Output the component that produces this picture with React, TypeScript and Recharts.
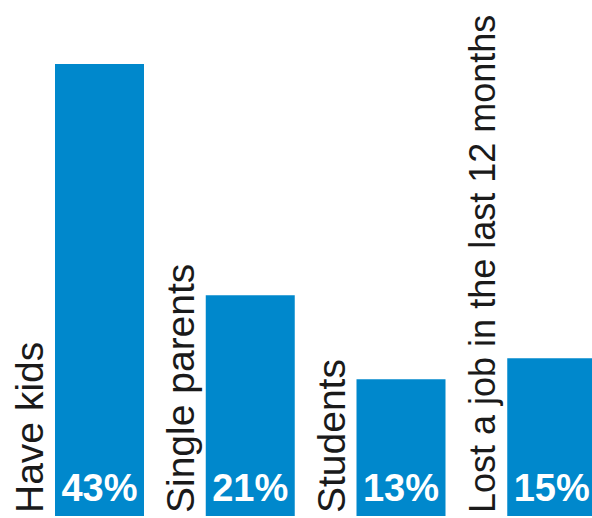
import React from "react"
import { BarChart, Bar, XAxis, YAxis, LabelList } from "recharts"

const categories = ["Have kids", "Single parents", "Students", "Lost a job in the last 12 months"]
const shares = [43, 21, 13, 15]

const data = categories.map((name, i) => ({ name, value: shares[i] }))

const BLUE = "#0088CC"
const FONT = "'Liberation Sans', Arial, sans-serif"

function CategoryLabel(props: any) {
    const { x, y, height, value } = props
    const tx = x - 12
    const ty = y + height - 3
    // the long label is set a bit smaller so it stays inside the picture
    const fontSize = String(value).length > 20 ? 36 : 39
    return (
        <text
            x={tx}
            y={ty}
            transform={`rotate(-90 ${tx} ${ty})`}
            fontFamily={FONT}
            fontSize={fontSize}
            fill="#1a1a1a"
            textAnchor="start"
        >
            {value}
        </text>
    )
}

function ShareLabel(props: any) {
    const { x, y, width, height, value } = props
    return (
        <text
            x={x + width / 2}
            y={y + height - 15}
            fontFamily={FONT}
            fontSize={38}
            fontWeight="bold"
            fill="#ffffff"
            textAnchor="middle"
        >
            {`${value}%`}
        </text>
    )
}

export default function App() {
    return (
        <div style={{ position: "absolute", left: 0, top: 0, width: 592, height: 518, overflow: "hidden", background: "#fff" }}>
            <BarChart width={627} height={518} data={data} margin={{ top: 43, right: 0, bottom: 2, left: 24 }}>
                <XAxis dataKey="name" hide />
                <YAxis domain={[0, 45]} hide />
                <Bar dataKey="value" fill={BLUE} barSize={89} isAnimationActive={false}>
                    <LabelList dataKey="name" content={CategoryLabel} />
                    <LabelList dataKey="value" content={ShareLabel} />
                </Bar>
            </BarChart>
        </div>
    )
}
